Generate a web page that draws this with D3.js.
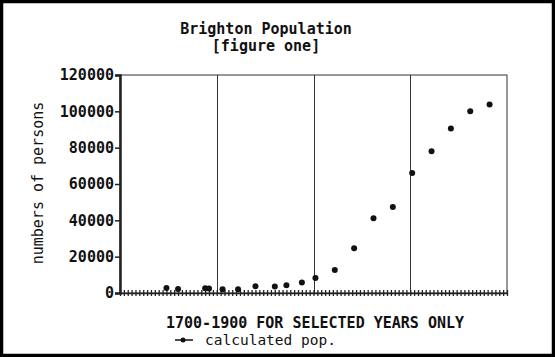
<!DOCTYPE html>
<html><head><meta charset="utf-8">
<script src="https://cdn.jsdelivr.net/npm/d3@7"></script>
<style>
html,body{margin:0;padding:0;background:#fff;}
svg{display:block;}
text{font-family:"DejaVu Sans Mono","Liberation Mono",monospace;fill:#111;}
</style></head>
<body>
<script>
const years = [1724,1730,1744,1746,1753,1761,1770,1780,1786,1794,1801,1811,1821,1831,1841,1851,1861,1871,1881,1891];
const population = [2700,2200,2600,2500,2100,2000,3700,3600,4300,5800,8200,12600,24700,41100,47300,66000,78000,90600,100000,103800];
const yTicks = [0,20000,40000,60000,80000,100000,120000];
const xSections = [1750,1800,1850];
const titleLines = ["Brighton Population","[figure one]"];
const xLabel = "1700-1900 FOR SELECTED YEARS ONLY";
const yLabel = "numbers of persons";
const legendLabel = "calculated pop.";

const W=555,H=357;
const svg=d3.select("body").append("svg").attr("width",W).attr("height",H);
svg.append("rect").attr("x",1.5).attr("y",1.5).attr("width",W-3).attr("height",H-3)
  .attr("fill","#fff").attr("stroke","#000").attr("stroke-width",3.5);

const x=d3.scaleLinear().domain([1700,1900]).range([120,507]);
const y=d3.scaleLinear().domain([0,120000]).range([293,75]);

// title
svg.selectAll("text.title").data(titleLines).join("text").attr("class","title")
  .attr("x",266).attr("y",(d,i)=>34+i*17).attr("text-anchor","middle")
  .attr("font-size",15).attr("font-weight","bold").text(d=>d);

// plot frame
svg.append("rect").attr("x",x(1700)).attr("y",y(120000)).attr("width",x(1900)-x(1700)).attr("height",y(0)-y(120000))
  .attr("fill","none").attr("stroke","#333").attr("stroke-width",1);
svg.selectAll("line.sec").data(xSections).join("line").attr("class","sec")
  .attr("x1",d=>Math.round(x(d))+0.5).attr("x2",d=>Math.round(x(d))+0.5)
  .attr("y1",y(120000)).attr("y2",y(0)).attr("stroke","#333").attr("stroke-width",1);

// y axis
const yAxis=d3.axisLeft(y).tickValues(yTicks).tickSize(5).tickPadding(1).tickFormat(d3.format("d"));
const gy=svg.append("g").attr("transform",`translate(${x(1700)},0)`).call(yAxis);
gy.select(".domain").attr("stroke","#222").attr("stroke-width",2.5);
gy.selectAll(".tick line").attr("stroke","#222").attr("stroke-width",1.5);
gy.selectAll(".tick text").attr("font-size",15).attr("font-weight","bold")
  .attr("font-family","'DejaVu Sans Mono',monospace").attr("fill","#111");

// x axis with dense ticks
const xTickVals=d3.range(1700,1901,2);
const xAxis=d3.axisBottom(x).tickValues(xTickVals).tickSizeInner(3).tickSizeOuter(0).tickFormat("");
const gx=svg.append("g").attr("transform",`translate(0,${y(0)})`).call(xAxis);
gx.select(".domain").attr("stroke","#222").attr("stroke-width",1.5);
gx.selectAll(".tick line").attr("y1",-3).attr("y2",3).attr("stroke","#222").attr("stroke-width",1.3);

// points
svg.selectAll("circle.pt").data(years.map((d,i)=>[d,population[i]])).join("circle").attr("class","pt")
  .attr("cx",d=>x(d[0])).attr("cy",d=>y(d[1])).attr("r",3).attr("fill","#111");

// labels
svg.append("text").attr("x",315).attr("y",328).attr("text-anchor","middle")
  .attr("font-size",15).attr("font-weight","bold").text(xLabel);
svg.append("text").attr("transform","translate(43,183) rotate(-90)").attr("text-anchor","middle")
  .attr("font-size",15).text(yLabel);

// legend
svg.append("line").attr("x1",175).attr("x2",193).attr("y1",340).attr("y2",340).attr("stroke","#111").attr("stroke-width",1.5);
svg.append("circle").attr("cx",183).attr("cy",340).attr("r",2.5).attr("fill","#111");
svg.append("text").attr("x",205).attr("y",345).attr("font-size",14.5).text(legendLabel);
</script>
</body></html>
